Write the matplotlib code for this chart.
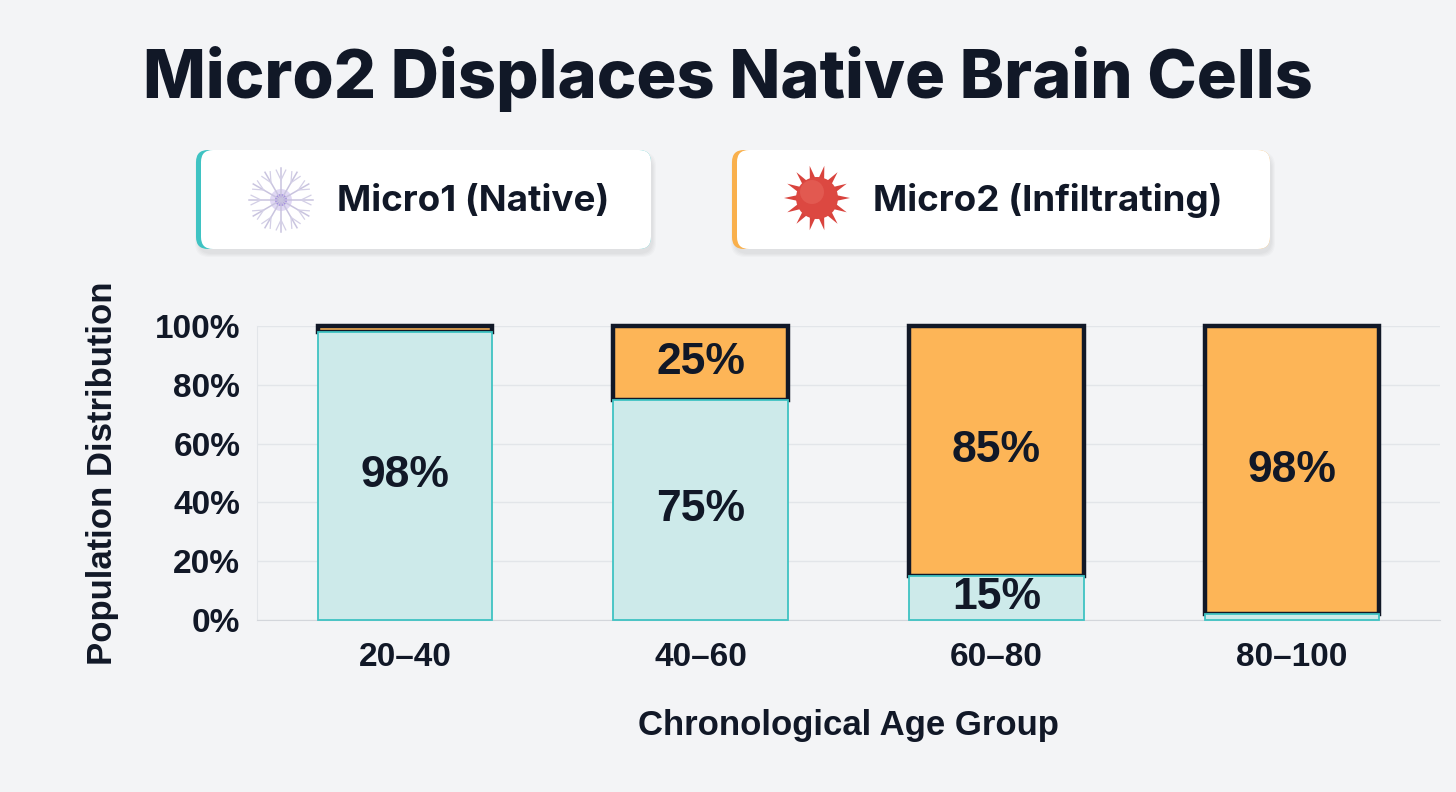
import numpy as np
import matplotlib.pyplot as plt
from matplotlib.patches import FancyBboxPatch, Circle, Polygon

# data
age_groups = ['20–40', '40–60', '60–80', '80–100']
micro1 = [98, 75, 15, 2]
micro2 = [2, 25, 85, 98]
series_names = ['Micro1 (Native)', 'Micro2 (Infiltrating)']

BG = '#f3f4f6'
INK = '#111827'
M1_FILL = '#cdeaea'
M1_EDGE = '#3fc3c3'
M2_FILL = '#fdb557'
M2_ACCENT = '#f9b04c'

plt.rcParams['font.family'] = ['Liberation Sans', 'DejaVu Sans']

fig = plt.figure(figsize=(14.56, 7.92), dpi=100, facecolor=BG)

# main chart
ax = fig.add_axes([257 / 1456, 1 - 620 / 792, (1440 - 257) / 1456, (620 - 326) / 792])
ax.set_facecolor(BG)
x = np.arange(len(age_groups))
w = 0.59
ax.bar(x, micro2, w, bottom=micro1, color=M2_FILL, edgecolor=INK,
       linewidth=3.2, zorder=2, clip_on=False)
ax.bar(x, micro1, w, color=M1_FILL, edgecolor=M1_EDGE,
       linewidth=1.3, zorder=3, clip_on=False)

for xi, a, b in zip(x, micro1, micro2):
    if a >= 10:
        ax.text(xi, a / 2, f'{a}%', ha='center', va='center', fontsize=32,
                fontweight='bold', color=INK, zorder=5)
    if b >= 10:
        ax.text(xi, a + b / 2, f'{b}%', ha='center', va='center', fontsize=32,
                fontweight='bold', color=INK, zorder=5)

ax.set_xlim(-0.5, len(age_groups) - 0.5)
ax.set_ylim(0, 100)
ax.set_yticks(range(0, 101, 20))
ax.set_yticklabels([f'{v}%' for v in range(0, 101, 20)])
ax.set_xticks(x)
ax.set_xticklabels(age_groups)
ax.tick_params(axis='both', length=0, labelsize=24, labelcolor=INK)
ax.tick_params(axis='y', pad=12)
ax.tick_params(axis='x', pad=16)
for lbl in ax.get_xticklabels() + ax.get_yticklabels():
    lbl.set_fontweight('bold')
ax.yaxis.grid(True, color='#e2e5e9', linewidth=1)
ax.set_axisbelow(True)
for side in ['top', 'right']:
    ax.spines[side].set_visible(False)
ax.spines['bottom'].set_color('#d3d6db')
ax.spines['left'].set_color('#e2e5e9')

ax.set_xlabel('Chronological Age Group', fontsize=25, fontweight='bold', color=INK)
ax.set_ylabel('Population Distribution', fontsize=25, fontweight='bold', color=INK)
ax.xaxis.label.set_va('center')
ax.yaxis.label.set_va('center')
ax.xaxis.set_label_coords(0.5, (620 - 726) / 294)
ax.yaxis.set_label_coords((102 - 257) / 1183, 0.5)

# title
fig.text(0.5, 1 - 98 / 792, 'Micro2 Displaces Native Brain Cells', ha='center',
         va='baseline', fontsize=48, fontweight='heavy', color=INK, family=['Inter', 'DejaVu Sans'])

# legend cards on an overlay in pixel coords
ov = fig.add_axes([0, 0, 1, 1])
ov.set_xlim(0, 1456)
ov.set_ylim(792, 0)
ov.axis('off')
ov.patch.set_alpha(0)

cards = [(196, 455, M1_EDGE), (732, 538, M2_ACCENT)]
for (cx, cw, accent), name in zip(cards, series_names):
    for k in range(4):
        ov.add_patch(FancyBboxPatch((cx + 2 - k, 152 - k + 3), cw + 2 * k, 99 + 2 * k,
                                    boxstyle='round,pad=0,rounding_size=14',
                                    fc='black', ec='none', alpha=0.02))
    ov.add_patch(FancyBboxPatch((cx, 150), cw, 99, boxstyle='round,pad=0,rounding_size=12',
                                fc=accent, ec='none'))
    ov.add_patch(FancyBboxPatch((cx + 5, 150), cw - 5, 99, boxstyle='round,pad=0,rounding_size=12',
                                fc='white', ec='none'))
    ov.text(cx + 141, 201, name, ha='left', va='center', fontsize=26.5, fontweight='bold',
            color=INK, family=['Inter', 'DejaVu Sans'])

# neuron icon
nx, ny = 281, 200
for ang in np.linspace(0, 2 * np.pi, 12, endpoint=False):
    ex, ey = nx + 32 * np.cos(ang), ny + 32 * np.sin(ang)
    ov.plot([nx, ex], [ny, ey], color='#c9c4df', lw=1.1)
    mx, my = nx + 20 * np.cos(ang), ny + 20 * np.sin(ang)
    for d in (-0.45, 0.45):
        ov.plot([mx, mx + 11 * np.cos(ang + d)], [my, my + 11 * np.sin(ang + d)],
                color='#d3cfe6', lw=0.9)
ov.add_patch(Circle((nx, ny), 11, fc='#d9cff2', ec='none', alpha=0.8))
ov.add_patch(Circle((nx, ny), 6, fc='#a48ee0', ec='none'))

# virus icon
vx, vy = 817, 198
for ang in np.linspace(0, 2 * np.pi, 14, endpoint=False):
    pts = [(vx + 18 * np.cos(ang - 0.18), vy + 18 * np.sin(ang - 0.18)),
           (vx + 33 * np.cos(ang), vy + 33 * np.sin(ang)),
           (vx + 18 * np.cos(ang + 0.18), vy + 18 * np.sin(ang + 0.18))]
    ov.add_patch(Polygon(pts, closed=True, fc='#d9433d', ec='none'))
ov.add_patch(Circle((vx, vy), 21, fc='#dc4841', ec='none'))
ov.add_patch(Circle((vx - 5, vy - 6), 12, fc='#e86a60', ec='none', alpha=0.5))

fig.savefig('out.png', dpi=100, facecolor=BG)
